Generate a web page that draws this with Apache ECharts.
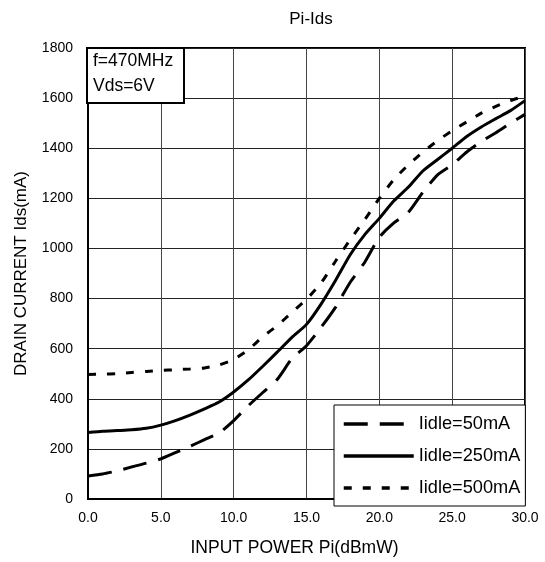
<!DOCTYPE html>
<html>
<head>
<meta charset="utf-8">
<script src="https://cdn.jsdelivr.net/npm/echarts@6/dist/echarts.min.js"></script>
<style>
html,body{margin:0;padding:0;background:#fff;}
#c{width:545px;height:562px;}
</style>
</head>
<body>
<div id="c"></div>
<script>
var titleText = 'Pi-Ids';
var xAxisName = 'INPUT POWER Pi(dBmW)';
var yAxisName = 'DRAIN CURRENT Ids(mA)';
var noteLines = ['f=470MHz', 'Vds=6V'];
var seriesNames = ['Iidle=50mA', 'Iidle=250mA', 'Iidle=500mA'];

var inputPower = [0,1,2,3,4,5,6,7,8,9,10,11,12,13,14,15,16,17,18,19,20,21,22,23,24,25,26,27,28,29,30];
var ids50  = [92,100,112,128,143,160,185,210,237,263,313,372,425,478,560,612,685,766,865,945,1045,1102,1145,1225,1294,1334,1385,1427,1462,1500,1535];
var ids250 = [265,270,273,276,282,295,313,335,360,387,427,475,530,587,645,697,778,873,975,1055,1120,1190,1245,1310,1355,1400,1447,1485,1518,1550,1590];
var ids500 = [497,498,500,505,509,513,516,519,523,535,557,595,648,692,745,797,862,950,1035,1115,1200,1275,1334,1385,1430,1470,1505,1540,1567,1590,1608];

function pairs(ys){ return inputPower.map(function(x,i){ return [x, ys[i]]; }); }

var FONT = 'Liberation Sans, Arial, sans-serif';
var chart = echarts.init(document.getElementById('c'));
var lineStyles = [
  {color:'#000', width:3, type:[24,12]},
  {color:'#000', width:3, type:'solid'},
  {color:'#000', width:3, type:[8,11]}
];
var allData = [ids50, ids250, ids500];

chart.setOption({
  animation:false,
  backgroundColor:'#fff',
  title:{
    text:titleText, left:306, top:6, textAlign:'center',
    textStyle:{fontFamily:FONT, fontSize:17, fontWeight:'normal', color:'#000'}
  },
  grid:{left:88, right:20, top:48, bottom:62, show:true, borderColor:'#000', borderWidth:2, backgroundColor:'transparent'},
  xAxis:{
    type:'value', min:0, max:30, interval:5,
    name:xAxisName, nameLocation:'middle', nameGap:40,
    nameTextStyle:{fontFamily:FONT, fontSize:17.5, color:'#000', padding:[0,24,0,0]},
    axisLine:{show:true, lineStyle:{color:'#000', width:2}},
    axisTick:{show:false},
    axisLabel:{fontFamily:FONT, fontSize:14, color:'#000', margin:12, formatter:function(v){return v.toFixed(1);}},
    splitLine:{show:true, lineStyle:{color:'#444', width:1}}
  },
  yAxis:{
    type:'value', min:0, max:1800, interval:200,
    name:yAxisName, nameLocation:'middle', nameGap:58, nameRotate:90,
    nameTextStyle:{fontFamily:FONT, fontSize:17, color:'#000'},
    axisLine:{show:true, lineStyle:{color:'#000', width:2}},
    axisTick:{show:false},
    axisLabel:{fontFamily:FONT, fontSize:14, color:'#000', margin:15, formatter:function(v){return String(v);}},
    splitLine:{show:true, lineStyle:{color:'#222', width:1}}
  },
  legend:{
    orient:'vertical', left:334, top:405,
    data:seriesNames,
    itemWidth:70, itemHeight:17, itemGap:14,
    padding:[10,5,9,8],
    backgroundColor:'#fff', borderColor:'#000', borderWidth:1,
    itemStyle:{opacity:0},
    lineStyle:{width:3.5},
    textStyle:{fontFamily:FONT, fontSize:18.2, color:'#000'}
  },
  graphic:[
    {type:'rect', shape:{x:87, y:48, width:97, height:55}, style:{fill:'#fff', stroke:'#000', lineWidth:2}, z:100},
    {type:'text', x:93, y:61, style:{text:noteLines[0], font:'17.5px '+FONT, fill:'#000', textVerticalAlign:'middle'}, z:101},
    {type:'text', x:93, y:86, style:{text:noteLines[1], font:'17.5px '+FONT, fill:'#000', textVerticalAlign:'middle'}, z:101}
  ],
  series: seriesNames.map(function(n,i){
    return {
      name:n, type:'line', data:pairs(allData[i]),
      showSymbol:false, symbol:'none', smooth:0.2,
      lineStyle:lineStyles[i], itemStyle:{color:'#000'},
      z:5
    };
  })
});
</script>
</body>
</html>
